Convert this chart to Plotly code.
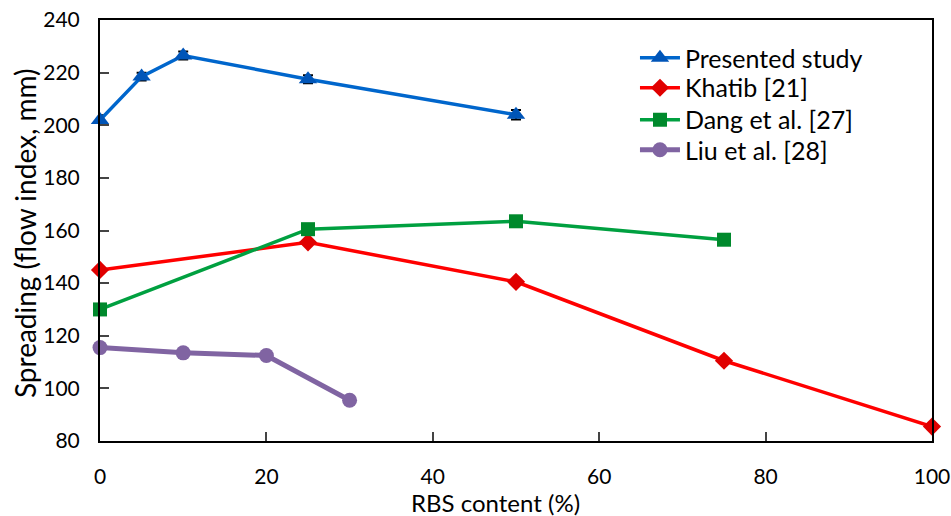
import plotly.graph_objects as go

x_study = [0, 5, 10, 25, 50]
y_study = [202, 218.5, 226.5, 217.5, 204]
err_study = [1.8, 1.5, 1.5, 1.5, 1.8]

x_khatib = [0, 25, 50, 75, 100]
y_khatib = [145, 155.5, 140.5, 110.5, 85.5]

x_dang = [0, 25, 50, 75]
y_dang = [130, 160.5, 163.5, 156.5]

x_liu = [0, 10, 20, 30]
y_liu = [115.5, 113.5, 112.5, 95.5]

x_ticks = [0, 20, 40, 60, 80, 100]
y_ticks = [80, 100, 120, 140, 160, 180, 200, 220, 240]

x_title = "RBS content (%)"
y_title = "Spreading (flow index, mm)"

FONT = "Lato, Open Sans, sans-serif"

fig = go.Figure()
fig.add_trace(go.Scatter(
    x=x_study, y=y_study, name="Presented study", mode="lines+markers",
    line=dict(color="#0066CC", width=3.5), cliponaxis=False, legend="legend",
    marker=dict(symbol="triangle-up", size=16, color="#0055B8"),
    error_y=dict(type="data", array=err_study, color="black", thickness=2, width=5),
))
fig.add_trace(go.Scatter(
    x=x_khatib, y=y_khatib, name="Khatib [21]", mode="lines+markers",
    line=dict(color="#FF0000", width=3.5), cliponaxis=False, legend="legend2",
    marker=dict(symbol="diamond", size=14, color="#E00000"),
))
fig.add_trace(go.Scatter(
    x=x_dang, y=y_dang, name="Dang et al. [27]", mode="lines+markers",
    line=dict(color="#00A040", width=3.5), cliponaxis=False, legend="legend3",
    marker=dict(symbol="square", size=14, color="#00892C"),
))
fig.add_trace(go.Scatter(
    x=x_liu, y=y_liu, name="Liu et al. [28]", mode="lines+markers",
    line=dict(color="#8064A2", width=5), cliponaxis=False, legend="legend4",
    marker=dict(symbol="circle", size=15, color="#8064A2"),
))

def leg(yc):
    return dict(x=0.643, y=yc, xanchor="left", yanchor="middle",
                font=dict(family=FONT, size=25),
                bgcolor="rgba(0,0,0,0)", itemwidth=40)

fig.update_layout(
    width=951, height=516,
    margin=dict(l=100, r=19, t=20, b=75, autoexpand=False),
    plot_bgcolor="white", paper_bgcolor="white",
    font=dict(family=FONT, size=21, color="black"),
    showlegend=True,
    legend=leg(0.9097),
    legend2=leg(0.8385),
    legend3=leg(0.7625),
    legend4=leg(0.6912),
    annotations=[
        dict(text=x_title, xref="paper", yref="paper", x=0.4748, y=-0.147,
             xanchor="center", yanchor="middle", showarrow=False,
             font=dict(family=FONT, size=24)),
        dict(text=y_title, xref="paper", yref="paper", x=-0.0901, y=0.494,
             xanchor="center", yanchor="middle", showarrow=False, textangle=-90,
             font=dict(family=FONT, size=28)),
    ],
)
fig.update_xaxes(
    range=[0, 100], tickvals=x_ticks, ticks="inside", ticklen=9, tickwidth=2,
    showline=True, linecolor="black", linewidth=2, mirror=True, showgrid=False,
    zeroline=False, tickfont=dict(size=21), ticklabelstandoff=16, automargin=False,
)
fig.update_yaxes(
    range=[80, 240], tickvals=y_ticks, ticks="inside", ticklen=9, tickwidth=2,
    showline=True, linecolor="black", linewidth=2, mirror=True, showgrid=False,
    zeroline=False, tickfont=dict(size=21), ticklabelstandoff=14, automargin=False,
)

fig.write_html("out.html")
